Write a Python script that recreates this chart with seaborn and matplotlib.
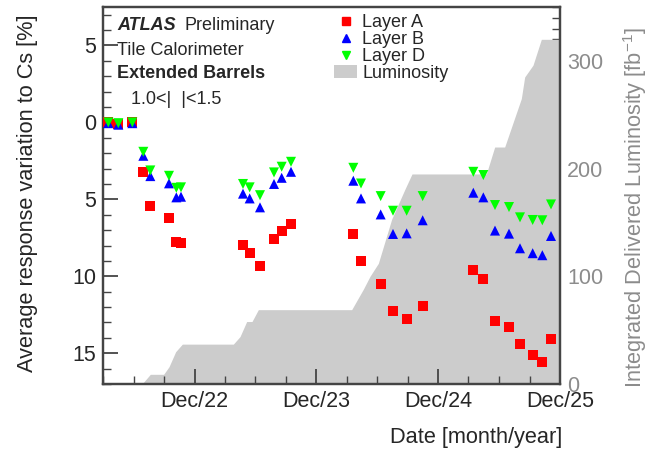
import numpy as np
import pandas as pd
import matplotlib
matplotlib.use("Agg")
import matplotlib.pyplot as plt
import matplotlib.dates as mdates
from matplotlib.patches import Patch
from matplotlib.lines import Line2D
from matplotlib.ticker import MultipleLocator, FuncFormatter
import seaborn as sns

# ---------------- data ----------------
dates = ["2022-03-17", "2022-04-16", "2022-05-28", "2022-06-30", "2022-07-21",
         "2022-09-15", "2022-10-07", "2022-10-21", "2023-04-25", "2023-05-15",
         "2023-06-15", "2023-07-27", "2023-08-19", "2023-09-16", "2024-03-21",
         "2024-04-13", "2024-06-11", "2024-07-18", "2024-08-28", "2024-10-15",
         "2025-03-16", "2025-04-15", "2025-05-20", "2025-07-01", "2025-08-03",
         "2025-09-10", "2025-10-09", "2025-11-04"]
layer_a = [0.0, -0.1, 0.05, -3.23, -5.41, -6.23, -7.75, -7.81, -7.96, -8.5,
           -9.33, -7.55, -7.08, -6.58, -7.27, -8.98, -10.49, -12.24, -12.76, -11.96,
           -9.58, -10.15, -12.89, -13.28, -14.43, -15.12, -15.55, -14.1]
layer_b = [-0.05, -0.15, -0.05, -2.17, -3.49, -3.96, -4.87, -4.83, -4.63, -4.94,
           -5.52, -4.0, -3.6, -3.21, -3.79, -4.94, -5.98, -7.25, -7.21, -6.36,
           -4.57, -4.87, -7.03, -7.23, -8.18, -8.5, -8.63, -7.38]
layer_d = [0.0, -0.05, 0.0, -1.91, -3.12, -3.47, -4.25, -4.22, -4.0, -4.22,
           -4.73, -3.25, -2.88, -2.56, -2.95, -3.97, -4.79, -5.74, -5.74, -4.79,
           -3.21, -3.42, -5.37, -5.5, -6.17, -6.34, -6.36, -5.33]

lumi_dates = ["2022-03-01", "2022-06-26", "2022-07-21", "2022-08-30", "2022-09-15",
              "2022-10-05", "2022-10-25", "2023-03-27", "2023-04-16", "2023-05-06",
              "2023-05-22", "2023-06-10", "2024-03-16", "2024-04-20", "2024-05-10",
              "2024-06-04", "2024-07-14", "2024-08-23", "2024-09-13", "2025-04-24",
              "2025-05-19", "2025-06-18", "2025-08-07", "2025-08-17", "2025-09-11",
              "2025-10-06", "2025-12-01"]
lumi_values = [0, 0, 9, 9, 16, 30, 37, 37, 44, 58, 58, 69, 69, 88, 100, 112, 153,
               181, 195, 195, 220, 220, 265, 285, 296, 320, 320]

layer_names = ["Layer A", "Layer B", "Layer D"]
layer_colors = ["#ff0000", "#0000ff", "#00ff00"]
layer_markers = ["s", "^", "v"]
x_ticks = ["2022-12-01", "2023-12-01", "2024-12-01", "2025-12-01"]
x_tick_labels = ["Dec/22", "Dec/23", "Dec/24", "Dec/25"]

# ---------------- style ----------------
sns.set_style("ticks")
plt.rcParams["font.family"] = ["Liberation Sans", "DejaVu Sans"]
plt.rcParams["mathtext.fontset"] = "custom"
plt.rcParams["mathtext.rm"] = "Liberation Sans"

df = pd.DataFrame({
    "date": pd.to_datetime(dates * 3),
    "resp": layer_a + layer_b + layer_d,
    "layer": sum([[n] * len(dates) for n in layer_names], []),
})

fig = plt.figure(figsize=(6.52, 4.50), dpi=100)
ax = fig.add_axes([103 / 652, 1 - 384 / 450, (560 - 103) / 652, (384 - 7) / 450])
ax2 = ax.twinx()

# luminosity (right axis), drawn behind the points
ld = pd.to_datetime(lumi_dates)
ax2.fill_between(ld, lumi_values, 0, color="#cccccc", lw=0, zorder=1)
ax2.plot(ld[:2], [0, 0], color="#1c1c5c", lw=2, zorder=2)
ax2.set_ylim(0, 350)
ax.set_zorder(ax2.get_zorder() + 1)
ax.patch.set_visible(False)

sns.scatterplot(data=df, x="date", y="resp", hue="layer", style="layer",
                hue_order=layer_names, style_order=layer_names,
                palette=dict(zip(layer_names, layer_colors)),
                markers=dict(zip(layer_names, layer_markers)),
                s=52, linewidth=0, legend=False, ax=ax, zorder=3)

ax.set_xlim(pd.Timestamp("2022-03-01"), pd.Timestamp("2025-12-01"))
ax.set_ylim(-17, 7.5)

# axes labels
ax.set_xlabel("Date [month/year]", fontsize=15.7, loc="right")
ax.xaxis.set_label_coords(1.004, -0.114)
ax.set_ylabel("Average response variation to Cs [%]", fontsize=15.7)
ax.yaxis.set_label_coords(-0.143, 0.505)
ax2.set_ylabel("Integrated Delivered Luminosity [fb$^{-1}$]", fontsize=15.7,
               color="#8c8c8c")
ax2.yaxis.set_label_coords(1.134, 0.468)

# ticks
ax.set_xticks(pd.to_datetime(x_ticks))
ax.set_xticklabels(x_tick_labels)
ax.xaxis.set_minor_locator(mdates.MonthLocator(bymonth=[3, 6, 9, 12]))
ax.yaxis.set_major_locator(MultipleLocator(5))
ax.yaxis.set_minor_locator(MultipleLocator(1))
ax.yaxis.set_major_formatter(FuncFormatter(lambda v, p: f"{abs(v):g}"))
ax.tick_params(axis="both", which="major", direction="in", length=11, width=1.3,
               labelsize=15.5, color="#444444", pad=5)
ax.tick_params(axis="both", which="minor", direction="in", length=6, width=1.0,
               color="#444444")
ax.tick_params(axis="x", which="both", top=False)
ax.tick_params(axis="y", which="both", right=False)

ax2.yaxis.set_major_locator(MultipleLocator(100))
ax2.yaxis.set_minor_locator(MultipleLocator(10))
ax2.tick_params(axis="y", which="major", direction="in", length=11, width=1.3,
                labelsize=15.5, color="#444444", labelcolor="#8c8c8c", pad=5)
ax2.tick_params(axis="y", which="minor", direction="in", length=6, width=1.0,
                color="#444444")

for a in (ax, ax2):
    for side in ["left", "right", "top", "bottom"]:
        a.spines[side].set_visible(True)
        a.spines[side].set_linewidth(1.6)
        a.spines[side].set_color("#444444")

# annotation texts
fig.text(117 / 652, 1 - 30 / 450, "ATLAS", fontsize=13, fontweight="bold",
         fontstyle="italic", va="baseline")
fig.text(184 / 652, 1 - 30 / 450, "Preliminary", fontsize=13, va="baseline")
fig.text(117 / 652, 1 - 55 / 450, "Tile Calorimeter", fontsize=13, va="baseline")
fig.text(117 / 652, 1 - 78.5 / 450, "Extended Barrels", fontsize=13,
         fontweight="bold", va="baseline")
fig.text(131 / 652, 1 - 103.5 / 450, "1.0<|  |<1.5", fontsize=13, va="baseline")

# legend
handles = [Line2D([], [], marker=m, color=c, ls="none", markersize=5.5)
           for m, c in zip(layer_markers, layer_colors)]
handles.append(Patch(facecolor="#cccccc", edgecolor="none"))
fig.legend(handles, layer_names + ["Luminosity"], loc="upper left",
           bbox_to_anchor=(334 / 652, 1 - 14 / 450), frameon=False, fontsize=13,
           handlelength=1.28, handleheight=0.75, handletextpad=0.28,
           labelspacing=0.0, borderpad=0, borderaxespad=0)

fig.savefig("out.png", dpi=100)
